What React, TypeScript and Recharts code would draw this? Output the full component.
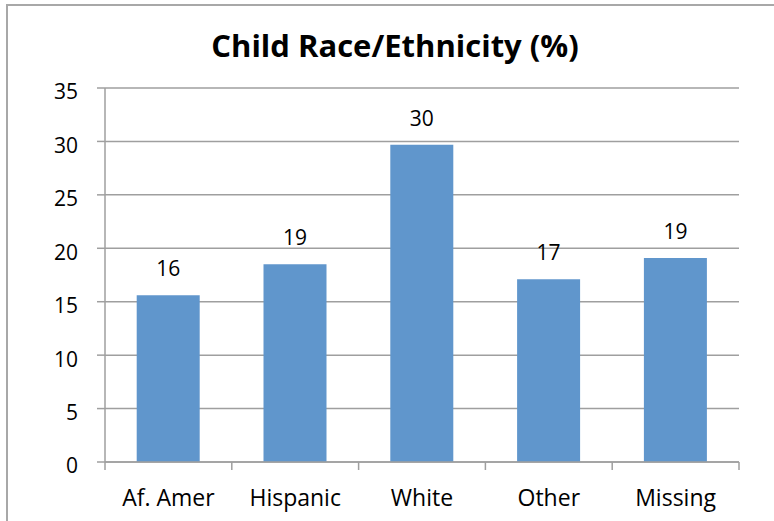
import { BarChart, Bar, XAxis, YAxis, CartesianGrid, LabelList } from 'recharts';

const groups = ['Af. Amer', 'Hispanic', 'White', 'Other', 'Missing'];
const percent = [15.6, 18.5, 29.7, 17.1, 19.1];
const yTicks = [0, 5, 10, 15, 20, 25, 30, 35];

const data = groups.map((g, i) => ({ group: g, pct: percent[i] }));

const FONT = '"Open Sans", sans-serif';
const GRID = '#9f9f9f';

// Excel puts the category tick marks between the bars, not under them
function XTick(props: any) {
  const { x, y, payload, index, visibleTicksCount } = props;
  const half = payload.offset || 63.4;
  const last = index === visibleTicksCount - 1;
  return (
    <g>
      <line x1={x - half} y1={y} x2={x - half} y2={y + 8} stroke={GRID} strokeWidth={1.5} />
      {last && <line x1={x + half} y1={y} x2={x + half} y2={y + 8} stroke={GRID} strokeWidth={1.5} />}
      <text x={x} y={y + 28} dy="0.71em" textAnchor="middle" fill="#000" fontSize={23} fontFamily={FONT}>
        {payload.value}
      </text>
    </g>
  );
}

function YTick(props: any) {
  const { x, y, payload } = props;
  return (
    <text x={x} y={y + 4} dy="0.355em" textAnchor="end" fill="#000" fontSize={21} fontFamily={FONT}>
      {payload.value}
    </text>
  );
}

export default function App() {
  return (
    <div style={{ position: 'absolute', left: 0, top: 0, width: 774, height: 521, background: '#fff', overflow: 'hidden' }}>
      <div style={{ position: 'absolute', left: 6, top: 4, width: 780, height: 530, borderTop: '2px solid #a8a8a8', borderLeft: '2px solid #a8a8a8' }} />
      <div style={{ position: 'absolute', left: 0, width: 790, top: 24, textAlign: 'center', fontFamily: FONT, fontWeight: 700, fontSize: 31, color: '#000' }}>
        Child Race/Ethnicity (%)
      </div>
      <BarChart width={774} height={521} data={data} margin={{ top: 88, right: 35, bottom: 0, left: 0 }} barCategoryGap="25%">
        <CartesianGrid vertical={false} stroke={GRID} strokeWidth={1.5} />
        <XAxis dataKey="group" height={59} axisLine={{ stroke: GRID, strokeWidth: 1.5 }} tickLine={false} tickSize={0} tickMargin={0} tick={<XTick />} interval={0} />
        <YAxis domain={[0, 35]} ticks={yTicks} width={105} axisLine={{ stroke: GRID, strokeWidth: 1.5 }} tickLine={{ stroke: GRID, strokeWidth: 1.5 }} tickSize={8} tickMargin={19} tick={<YTick />} interval={0} />
        <Bar dataKey="pct" fill="#6096cc" isAnimationActive={false}>
          <LabelList dataKey="pct" position="top" offset={19} formatter={(v: any) => Math.round(Number(v))} fill="#000" fontSize={21} fontFamily={FONT} />
        </Bar>
      </BarChart>
    </div>
  );
}
